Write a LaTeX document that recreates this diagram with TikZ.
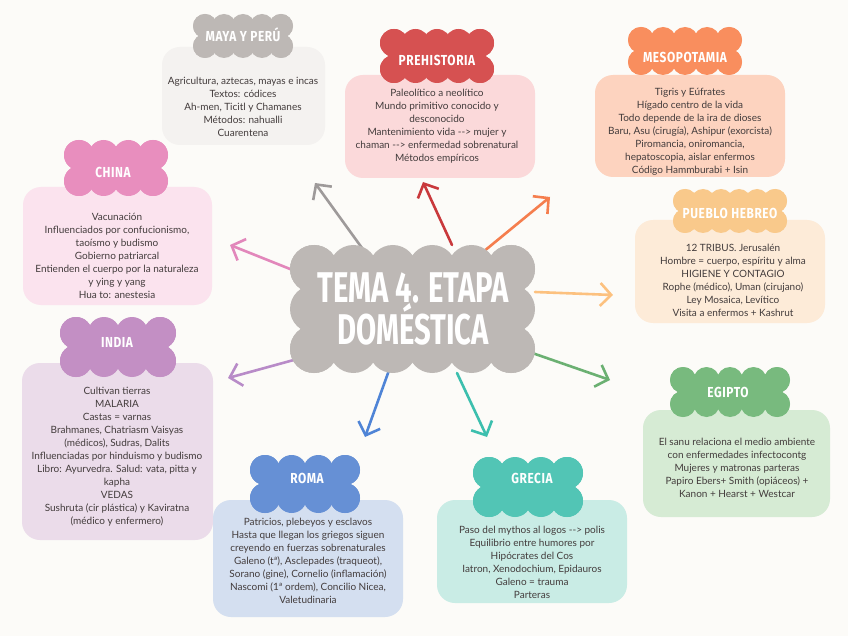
\documentclass[tikz,border=0pt]{standalone}
\usepackage{fontspec}
\setmainfont{Lato}
\newfontfamily\hfont[FakeStretch=0.82,LetterSpace=4]{Fira Sans}
\newfontfamily\cfont[FakeStretch=0.68]{Fira Sans}
\usetikzlibrary{arrows.meta}
\definecolor{bgc}{HTML}{FCFBF8}
\definecolor{txt}{HTML}{433C3C}
\definecolor{grayc}{HTML}{BDB8B5}
\definecolor{grayb}{HTML}{F4F2F0}
\definecolor{graya}{HTML}{9E9A9A}
\definecolor{redc}{HTML}{D65151}
\definecolor{redb}{HTML}{FBD9DA}
\definecolor{reda}{HTML}{C9393C}
\definecolor{orc}{HTML}{F98E5E}
\definecolor{orb}{HTML}{FDD3BF}
\definecolor{ora}{HTML}{F57E4E}
\definecolor{lorc}{HTML}{F9C98B}
\definecolor{lorb}{HTML}{FDEBD8}
\definecolor{lora}{HTML}{FCC17F}
\definecolor{pic}{HTML}{E88EBE}
\definecolor{pib}{HTML}{FBE3EE}
\definecolor{pia}{HTML}{E287BB}
\definecolor{puc}{HTML}{C38FC4}
\definecolor{pub}{HTML}{EBDCEA}
\definecolor{pua}{HTML}{B88BC8}
\definecolor{grc}{HTML}{78BA7E}
\definecolor{grb}{HTML}{D6EBD4}
\definecolor{gra}{HTML}{6BB072}
\definecolor{blc}{HTML}{6690D5}
\definecolor{blb}{HTML}{D4DFF0}
\definecolor{bla}{HTML}{4F84D6}
\definecolor{tec}{HTML}{52C5B5}
\definecolor{teb}{HTML}{C9ECE5}
\definecolor{tea}{HTML}{3CBFAE}
\newcommand{\puffcloud}[8]{%
  \fill[#8] ({#1-#3+#5},{#2-#4+#5}) rectangle ({#1+#3-#5},{#2+#4-#5});
  \foreach \i in {0,...,#6}{%
    \pgfmathsetmacro\px{#1-(#3-#5)+\i*2*(#3-#5)/#6}
    \fill[#8] (\px,{#2-#4+#5}) circle (#5);
    \fill[#8] (\px,{#2+#4-#5}) circle (#5);}
  \foreach \j in {0,...,#7}{%
    \pgfmathsetmacro\py{#2-(#4-#5)+\j*2*(#4-#5)/#7}
    \fill[#8] ({#1-#3+#5},\py) circle (#5);
    \fill[#8] ({#1+#3-#5},\py) circle (#5);}
}
\tikzset{
  box/.style={rectangle, rounded corners=18pt, inner sep=0pt},
  body/.style={align=center, text=txt, font=\fontsize{10}{13}\selectfont, inner sep=0pt},
  htitle/.style={text=white, font=\hfont\bfseries\fontsize{14.5}{15}\selectfont, inner sep=0pt},
  arr/.style={line width=2.6pt, line cap=round, -{Straight Barb[length=11pt,width=23pt,line width=2.6pt]}}
}
\begin{document}
\begin{tikzpicture}[x=1pt,y=-1pt]
\useasboundingbox (0,0) rectangle (848,636);
\fill[bgc] (0,0) rectangle (848,636);

% boxes
\node[box, fill=grayb, minimum width=163pt, minimum height=98pt] (mayabox) at (243.5,96) {};
\node[box, fill=redb, minimum width=190pt, minimum height=103pt] (prebox) at (440,126.5) {};
\node[box, fill=orb, minimum width=190pt, minimum height=102pt] (mesobox) at (690,126) {};
\node[box, fill=pib, minimum width=189pt, minimum height=118pt] (chinabox) at (117.5,246) {};
\node[box, fill=lorb, minimum width=190pt, minimum height=103pt] (hebbox) at (730,271.5) {};
\node[box, fill=pub, minimum width=191pt, minimum height=177pt] (indiabox) at (117.5,451.5) {};
\node[box, fill=grb, minimum width=187pt, minimum height=107pt] (egbox) at (736.5,463.5) {};
\node[box, fill=blb, minimum width=190pt, minimum height=117pt] (romabox) at (308,558.5) {};
\node[box, fill=teb, minimum width=190pt, minimum height=103pt] (grbox) at (532,551.5) {};

% header clouds
\puffcloud{243}{36}{50}{22}{12}{4}{1}{grayc}
\puffcloud{437}{56}{57}{27}{14}{4}{1}{redc}
\puffcloud{685}{51}{57}{24}{13}{4}{1}{orc}
\puffcloud{116}{168}{52}{28}{15}{3}{1}{pic}
\puffcloud{730}{211}{57}{22}{12}{5}{1}{lorc}
\puffcloud{118}{347}{58}{30}{16}{3}{1}{puc}
\puffcloud{730}{392}{60}{25}{13}{4}{1}{grc}
\puffcloud{305}{484}{55}{29}{15}{3}{1}{blc}
\puffcloud{528}{487}{55}{30}{16}{3}{1}{tec}

% titles
\node[htitle] (mayat) at (243,35) {MAYA Y PERÚ};
\node[htitle] (pret) at (437,60) {PREHISTORIA};
\node[htitle] (mesot) at (685,57) {MESOPOTAMIA};
\node[htitle] (chinat) at (113,172) {CHINA};
\node[htitle] (hebt) at (730,213) {PUEBLO HEBREO};
\node[htitle] (indiat) at (117,342) {INDIA};
\node[htitle] (egt) at (728,392) {EGIPTO};
\node[htitle] (romat) at (307,478) {ROMA};
\node[htitle] (grt) at (532,478) {GRECIA};

% body texts
\node[body] (mayatext) at (243,106.5) {Agricultura, aztecas, mayas e incas\\Textos: códices\\Ah-men, Ticitl y Chamanes\\Métodos: nahualli\\Cuarentena};
\node[body] (pretext) at (437,126.5) {Paleolítico a neolítico\\Mundo primitivo conocido y\\desconocido\\Mantenimiento vida -{}-> mujer y\\chaman -{}-> enfermedad sobrenatural\\Métodos empíricos};
\node[body] (mesotext) at (690,132) {Tigris y Eúfrates\\Hígado centro de la vida\\Todo depende de la ira de dioses\\Baru, Asu (cirugía), Ashipur (exorcista)\\Piromancia, oniromancia,\\hepatoscopia, aislar enfermos\\Código Hammburabi + Isin};
\node[body] (chinatext) at (117,255.5) {Vacunación\\Influenciados por confucionismo,\\taoísmo y budismo\\Gobierno patriarcal\\Entienden el cuerpo por la naturaleza\\y ying y yang\\Hua to: anestesia};
\node[body] (hebtext) at (733,280) {12 TRIBUS. Jerusalén\\Hombre = cuerpo, espíritu y alma\\HIGIENE Y CONTAGIO\\Rophe (médico), Uman (cirujano)\\Ley Mosaica, Levítico\\Visita a enfermos + Kashrut};
\node[body] (indiatext) at (117,456.5) {Cultivan tierras\\MALARIA\\Castas = varnas\\Brahmanes, Chatriasm Vaisyas\\(médicos), Sudras, Dalits\\Influenciadas por hinduismo y budismo\\Libro: Ayurvedra. Salud: vata, pitta y\\kapha\\VEDAS\\Sushruta (cir plástica) y Kaviratna\\(médico y enfermero)};
\node[body] (egtext) at (737,467.5) {El sanu relaciona el medio ambiente\\con enfermedades infectocontg\\Mujeres y matronas parteras\\Papiro Ebers+ Smith (opiáceos) +\\Kanon + Hearst + Westcar};
\node[body] (romatext) at (308,561) {Patricios, plebeyos y esclavos\\Hasta que llegan los griegos siguen\\creyendo en fuerzas sobrenaturales\\Galeno (tª), Asclepades (traqueot),\\Sorano (gine), Cornelio (inflamación)\\Nascomi (1ª ordem), Concilio Nicea,\\Valetudinaria};
\node[body] (grtext) at (532,562.5) {Paso del mythos al logos -{}-> polis\\Equilibrio entre humores por\\Hipócrates del Cos\\Iatron, Xenodochium, Epidauros\\Galeno = trauma\\Parteras};

% arrow coordinates
\coordinate (s1) at (362,248); \coordinate (e1) at (315,183);
\coordinate (s2) at (452,245); \coordinate (e2) at (423,182);
\coordinate (s3) at (483,252); \coordinate (e3) at (550,197);
\coordinate (s4) at (535,292); \coordinate (e4) at (613,295);
\coordinate (s5) at (300,273); \coordinate (e5) at (230,245);
\coordinate (s6) at (312,355); \coordinate (e6) at (228,378);
\coordinate (s7) at (392,362); \coordinate (e7) at (365,437);
\coordinate (s8) at (457,373); \coordinate (e8) at (487,437);
\coordinate (s9) at (515,347); \coordinate (e9) at (610,380);
\draw[arr, graya] (s1) -- (e1);
\draw[arr, reda] (s2) -- (e2);
\draw[arr, ora] (s3) -- (e3);
\draw[arr, lora] (s4) -- (e4);
\draw[arr, pia] (s5) -- (e5);
\draw[arr, pua] (s6) -- (e6);
\draw[arr, bla] (s7) -- (e7);
\draw[arr, tea] (s8) -- (e8);
\draw[arr, gra] (s9) -- (e9);

% central cloud
\puffcloud{412.5}{309}{122.5}{64}{24}{5}{2}{grayc}
\node[text=white, align=center, inner sep=0pt, font=\cfont\bfseries\fontsize{43}{36}\selectfont] (main) at (413,309) {TEMA 4. ETAPA\\DOMÉSTICA};
\end{tikzpicture}
\end{document}
